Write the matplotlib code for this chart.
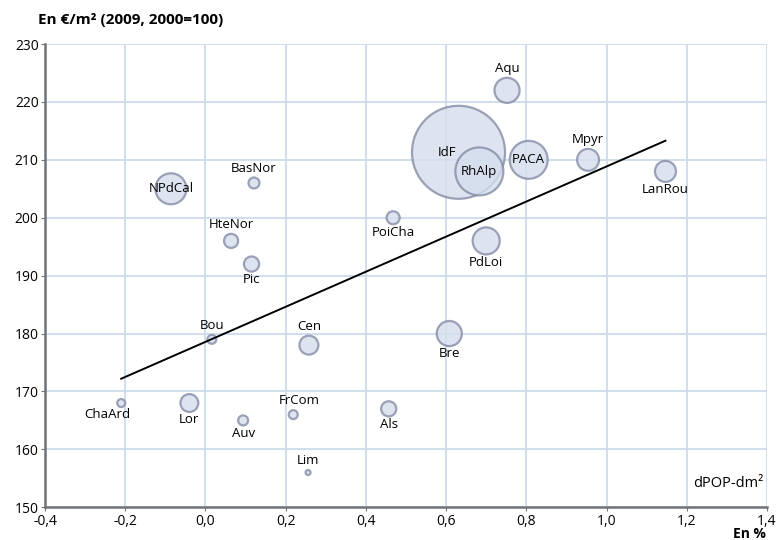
import matplotlib.pyplot as plt
import numpy as np

regions = ["ChaArd", "Lor", "Auv", "FrCom", "Lim", "Als", "Bou", "Cen", "Bre",
           "NPdCal", "BasNor", "HteNor", "Pic", "PoiCha", "PdLoi", "Aqu", "IdF",
           "RhAlp", "PACA", "Mpyr", "LanRou"]
dpop = [-0.21, -0.04, 0.094, 0.219, 0.256, 0.457, 0.016, 0.258, 0.608,
        -0.086, 0.121, 0.064, 0.115, 0.468, 0.70, 0.752, 0.631,
        0.683, 0.806, 0.954, 1.147]
prix = [168, 168, 165, 166, 156, 167, 179, 178, 180,
        205, 206, 196, 192, 200, 196, 222, 211.3,
        208, 210, 210, 208]
poids = [0.64, 3.2, 1.0, 0.8, 0.25, 2.3, 0.8, 3.6, 6.3,
         9.6, 1.2, 2.0, 2.3, 1.7, 7.3, 6.3, 86.5,
         23, 14.4, 4.8, 4.4]
# label placement: a = above, b = below, c = centre
place = ["bl", "b", "b", "ar", "a", "b", "a", "a", "b",
         "c", "a", "a", "b", "b", "b", "a", "cl",
         "c", "c", "a", "b"]

trend_x = [-0.21, 1.147]
trend_y = [172.2, 213.3]

plt.rcParams["font.family"] = ["Open Sans", "DejaVu Sans"]

fig = plt.figure(figsize=(7.81, 5.40), dpi=100)
ax = fig.add_axes([0.0576, 0.0606, 0.9244, 0.8579])

poids = np.array(poids)
ax.scatter(dpop, prix, s=51.84 * poids, facecolor="#d5deed", alpha=0.8,
           edgecolor="#858ca6", linewidth=1.6, zorder=3)
ax.plot(trend_x, trend_y, color="black", lw=1.4, zorder=4)

fs = 9.5
for name, x, y, w, p in zip(regions, dpop, prix, poids, place):
    r = 10 * np.sqrt(w) / 2 * 0.72 + 1  # radius in points
    if p[0] == "a":
        dx = 4 if p.endswith("r") else 0
        ax.annotate(name, (x, y), xytext=(dx, r + 1), textcoords="offset points",
                    ha="center", va="bottom", fontsize=fs, zorder=5)
    elif p[0] == "b":
        dx = -10 if p.endswith("l") else 0
        ax.annotate(name, (x, y), xytext=(dx, -r), textcoords="offset points",
                    ha="center", va="top", fontsize=fs, zorder=5)
    else:
        dx = -8 if p.endswith("l") else 0
        ax.annotate(name, (x, y), xytext=(dx, 0), textcoords="offset points",
                    ha="center", va="center", fontsize=fs, zorder=5)

ax.set_xlim(-0.4, 1.4)
ax.set_ylim(150, 230)
xt = np.arange(-0.4, 1.41, 0.2)
ax.set_xticks(xt)
ax.set_xticklabels([f"{v:.1f}".replace(".", ",").replace("-0,0", "0,0") for v in xt])
ax.set_yticks(np.arange(150, 231, 10))
ax.tick_params(labelsize=10, length=3, color="#707478", pad=1.5)
ax.grid(True, color="#cddbea", lw=1.3)
ax.set_axisbelow(True)
for s in ["top", "right"]:
    ax.spines[s].set_visible(False)
for s in ["left", "bottom"]:
    ax.spines[s].set_color("#707478")
    ax.spines[s].set_linewidth(1.8)

fig.text(0.049, 0.963, "En €/m² (2009, 2000=100)", fontsize=11, fontweight="bold",
         ha="left", va="center")
fig.text(0.98, 0.012, "En %", fontsize=10, fontweight="bold", ha="right", va="center")
ax.text(0.995, 0.035, "dPOP-dm²", transform=ax.transAxes, fontsize=10.5,
        ha="right", va="bottom")

fig.savefig("out.png", dpi=100)
